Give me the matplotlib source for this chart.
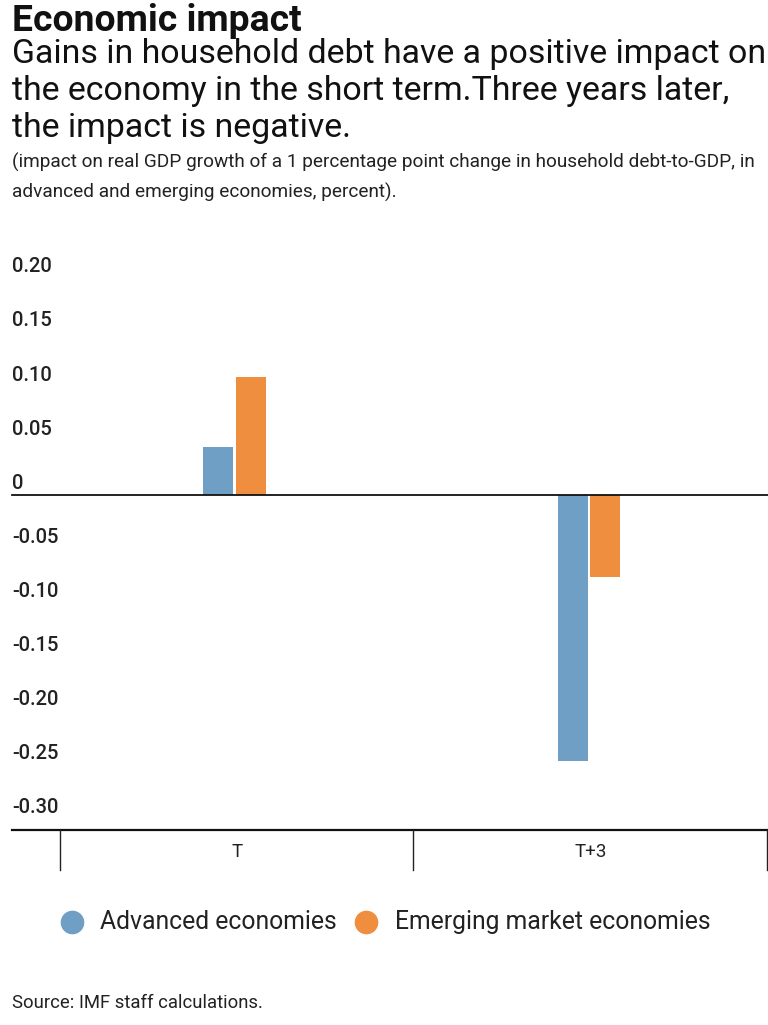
import matplotlib
matplotlib.use("Agg")
import matplotlib.pyplot as plt
import matplotlib.transforms as mtransforms
from matplotlib.lines import Line2D
import numpy as np

# ---- data ----
categories = ["T", "T+3"]
series_names = ["Advanced economies", "Emerging market economies"]
advanced = [0.044, -0.246]
emerging = [0.109, -0.076]
yticks = [0.20, 0.15, 0.10, 0.05, 0.0, -0.05, -0.10, -0.15, -0.20, -0.25, -0.30]
ytick_labels = ["0.20", "0.15", "0.10", "0.05", "0", "-0.05", "-0.10", "-0.15", "-0.20", "-0.25", "-0.30"]
title = "Economic impact"
subtitle = ["Gains in household debt have a positive impact on",
            "the economy in the short term.Three years later,",
            "the impact is negative."]
note = ["(impact on real GDP growth of a 1 percentage point change in household debt-to-GDP, in",
        "advanced and emerging economies, percent)."]
source = "Source: IMF staff calculations."

colors = ["#6f9fc4", "#ef8e3e"]

W, H = 768, 1025
plt.rcParams['font.family'] = ['Roboto', 'DejaVu Sans']
fig = plt.figure(figsize=(W / 100, H / 100), dpi=100)

def fx(px):
    return px / W

def fy(py):
    return 1 - py / H

# axes: x from 60 to 768 px, y from 250 to 830 px
ax = fig.add_axes([fx(60), fy(830), fx(768) - fx(60), (830 - 250) / H])
ppu = 1082.0
zero_px = 495
ax.set_ylim(-(830 - zero_px) / ppu, (zero_px - 250) / ppu)
ax.set_xlim(0, 2)
ax.axis("off")

x = np.arange(len(categories)) + 0.5
bw = 30 / 354
off = 16 / 354
shift = -2.5 / 354
ax.bar(x + shift - off, advanced, width=bw, color=colors[0], zorder=2)
ax.bar(x + shift + off, emerging, width=bw, color=colors[1], zorder=2)

# zero line and bottom axis line extending to left label area
trans_fx_dy = mtransforms.blended_transform_factory(fig.transFigure, ax.transData)
ax.add_line(Line2D([fx(12), fx(768)], [0, 0], transform=trans_fx_dy, color="#111111",
                   lw=1.3, clip_on=False, zorder=3))
fig.add_artist(Line2D([fx(12), fx(768)], [fy(830), fy(830)], color="#111111", lw=1.6))
for tx in [60, 413, 767]:
    fig.add_artist(Line2D([fx(tx), fx(tx)], [fy(830), fy(870)], color="#222222", lw=1.0))

# y tick labels
lab_trans = trans_fx_dy + mtransforms.ScaledTranslation(0, 4.5 / 72, fig.dpi_scale_trans)
for v, s in zip(yticks, ytick_labels):
    ax.text(fx(12), v, s, transform=lab_trans, ha="left", va="baseline",
            fontsize=14.5, fontweight="medium", color="#222222")

# category labels
cat_trans = mtransforms.blended_transform_factory(ax.transData, fig.transFigure)
for xi, c in zip(x, categories):
    ax.text(xi, fy(852), c, transform=cat_trans, ha="center", va="center",
            fontsize=13.5, color="#222222")

# titles
fig.text(fx(12), fy(31), title, fontsize=26.8, fontweight="bold", va="baseline", ha="left", color="#111111")
for i, line in enumerate(subtitle):
    fig.text(fx(12), fy(63 + 37 * i), line, fontsize=24.4, va="baseline", ha="left", color="#111111")
for i, line in enumerate(note):
    fig.text(fx(12), fy(168 + 30 * i), line, fontsize=13.7, va="baseline", ha="left", color="#222222")

# legend
leg_pos = [(72, 100), (366, 395)]
for (cx, tx), name, col in zip(leg_pos, series_names, colors):
    fig.add_artist(Line2D([fx(cx)], [fy(922)], marker="o", markersize=16, color=col, lw=0))
    fig.text(fx(tx), fy(922), name, fontsize=17.8, va="center", ha="left", color="#222222")

fig.text(fx(12), fy(1003), source, fontsize=13.3, va="center", ha="left", color="#222222")

fig.savefig("out.png", dpi=100, facecolor="white")
